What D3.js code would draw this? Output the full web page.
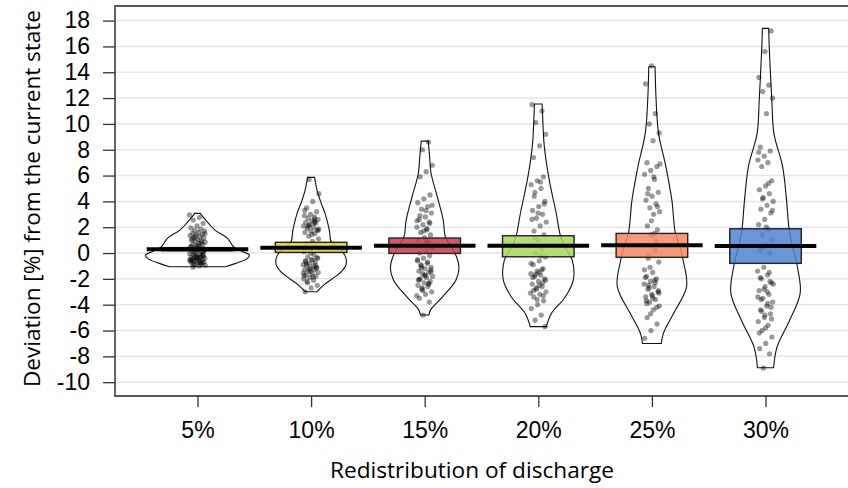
<!DOCTYPE html>
<html>
<head>
<meta charset="utf-8">
<script src="https://cdn.jsdelivr.net/npm/d3@7"></script>
<style>
  body { margin: 0; background: #fff; }
  svg { display: block; }
</style>
</head>
<body>
<svg id="chart"></svg>
<script>
// categories and summary values
const categories = ["5%", "10%", "15%", "20%", "25%", "30%"];
const means = [0.3, 0.41, 0.57, 0.57, 0.6, 0.54];
const boxLow = [0.18, 0.05, -0.03, -0.29, -0.33, -0.8];
const boxHigh = [0.42, 0.83, 1.16, 1.34, 1.52, 1.88];
const boxColors = ["#4a4a4a", "#e3d13c", "#cc3a4e", "#a6d85a", "#fa875e", "#4f84d4"];
const yTicks = [-10, -8, -6, -4, -2, 0, 2, 4, 6, 8, 10, 12, 14, 16, 18];

// bean outlines: [value, relative density]
const bean5 = [[3.07, 0.08], [2.68, 0.19], [2.17, 0.36], [1.78, 0.5], [1.14, 0.86], [0.49, 1.03], [0.1, 1.3], [-0.15, 1.48], [-0.41, 1.43], [-0.8, 1.09], [-1.06, 0.8]];
const bean10 = [[5.86, 0.1], [4.88, 0.17], [3.85, 0.29], [3.07, 0.4], [1.78, 0.52], [0.83, 0.58], [0.36, 0.8], [-0.2, 0.97], [-0.9, 1.0], [-1.4, 0.88], [-1.83, 0.69], [-2.48, 0.36], [-3.0, 0.16]];
const bean15 = [[8.67, 0.1], [7.5, 0.14], [6.2, 0.18], [4.36, 0.36], [2.55, 0.53], [1.26, 0.59], [0.5, 0.75], [-0.29, 0.91], [-1.16, 0.98], [-2.1, 0.89], [-3.4, 0.51], [-4.4, 0.17], [-4.8, 0.12]];
const bean20 = [[11.54, 0.11], [10.8, 0.12], [8.3, 0.17], [5.7, 0.31], [3.1, 0.51], [1.26, 0.64], [0.3, 0.8], [-0.55, 0.97], [-2.1, 1.0], [-3.4, 0.77], [-4.7, 0.37], [-5.7, 0.23]];
const bean25 = [[14.43, 0.09], [11.85, 0.12], [9.27, 0.19], [6.68, 0.4], [4.1, 0.57], [1.54, 0.67], [0.5, 0.8], [-0.54, 0.89], [-2.6, 0.99], [-4.67, 0.62], [-6.2, 0.33], [-7.0, 0.27]];
const bean30 = [[17.4, 0.09], [15.7, 0.11], [11.85, 0.18], [9.27, 0.24], [6.68, 0.49], [4.1, 0.6], [1.52, 0.69], [-1.06, 0.91], [-3.12, 0.99], [-5.2, 0.69], [-7.26, 0.33], [-8.88, 0.23]];

// raw points
const pts5 = [2.95, 2.75, 2.55, 2.3, 2.1, 1.95, 1.85, 1.75, 1.7, 1.6, 1.55, 1.45, 1.4, 1.35, 1.25, 1.2, 1.15, 1.05, 1.0, 0.95, 0.9, 0.85, 0.75, 0.7, 0.65, 0.55, 0.5, 0.4, 0.35, 0.3, 0.25, 0.15, 0.1, 0.05, -0.05, -0.1, -0.15, -0.2, -0.25, -0.3, -0.3, -0.35, -0.4, -0.45, -0.45, -0.5, -0.55, -0.6, -0.6, -0.65, -0.7, -0.75, -0.8, -0.85, -0.9, -0.95, -1.0, -1.1, -0.2, -0.4, -0.6, -0.8, 0.0, 0.2, 0.6, 1.1,
    -0.1, -0.3, -0.5, -0.7, -0.9, 0.1, 0.3, 0.5, 0.8, 1.3, 1.5, -0.35, -0.55, -0.75, 0.45];
const pts10 = [5.7, 4.6, 4.0, 3.5, 3.2, 3.0, 2.9, 2.8, 2.7, 2.6, 2.5, 2.4, 2.3, 2.2, 2.1, 2.0, 1.9, 1.8, 1.7, 1.6, 1.5, 1.3, 1.1, 0.9, 0.7, 0.5, 0.3, 0.1, -0.1, -0.3, -0.4, -0.5, -0.6, -0.7, -0.8, -0.9, -1.0, -1.0, -1.1, -1.2, -1.3, -1.3, -1.4, -1.5, -1.6, -1.7, -1.8, -1.9, -2.0, -2.1, -2.3, -2.5, -2.7, -3.0, 2.45, 2.15, 1.85, -0.55, -0.85, -1.15, -1.45, -1.75,
    2.35, 2.05, 1.75, 1.45, -0.65, -0.95, -1.25, -1.55, -1.85, -2.2, -0.35, 0.0, 3.3, 2.65];
const pts15 = [8.6, 8.0, 6.8, 6.3, 5.9, 4.5, 4.2, 3.9, 3.6, 3.4, 3.1, 2.8, 2.6, 2.4, 2.2, 2.0, 1.8, 1.6, 1.4, 1.2, 1.0, 0.8, 0.6, 0.4, 0.2, 0.0, -0.2, -0.4, -0.6, -0.8, -1.0, -1.1, -1.2, -1.4, -1.5, -1.6, -1.8, -1.9, -2.0, -2.2, -2.3, -2.5, -2.6, -2.8, -3.0, -3.2, -3.5, -3.8, -4.8, 2.5, 1.9, -0.9, -1.3, -1.7, -2.1, -2.4, -2.7,
    3.7, 3.3, 2.9, 2.3, 1.7, -0.5, -0.7, -1.15, -1.45, -1.75, -2.05, -2.35, -2.9, -3.3, 0.9];
const pts20 = [11.5, 11.0, 10.1, 9.2, 8.3, 7.4, 5.9, 5.6, 5.3, 5.0, 4.7, 4.0, 3.6, 3.3, 3.0, 2.7, 2.4, 2.1, 1.7, 1.4, 1.0, 0.6, 0.3, 0.0, -0.3, -0.6, -0.9, -1.2, -1.4, -1.6, -1.7, -1.8, -2.0, -2.2, -2.4, -2.6, -2.8, -3.0, -3.2, -3.4, -3.7, -4.0, -4.3, -4.8, -5.2, -5.7, -1.5, -1.9, -2.3, -2.7, -3.1,
    5.5, 4.4, 3.8, 3.1, 2.6, -1.3, -1.65, -2.1, -2.5, -2.9, -3.3, -3.6, -0.8, -0.2, 1.2];
const pts25 = [14.5, 13.1, 10.8, 10.0, 9.3, 8.7, 7.0, 6.7, 6.4, 6.1, 5.7, 5.0, 4.7, 4.4, 4.1, 3.8, 3.5, 3.2, 3.0, 2.1, 1.8, 1.4, 0.6, 0.2, -0.2, -0.7, -1.5, -1.8, -2.0, -2.2, -2.4, -2.6, -2.8, -3.0, -3.2, -3.4, -3.6, -3.8, -4.1, -4.4, -5.0, -5.5, -6.0, -6.6, -2.1, -2.5, -2.9, -3.3, -3.7, 0.9, -1.1,
    6.9, 5.9, 4.6, 3.6, 2.5, -1.9, -2.3, -2.7, -3.1, -3.5, -3.9, -4.2, -4.7, -1.3, 1.5, -0.4];
const pts30 = [17.2, 15.6, 13.6, 13.0, 12.5, 12.0, 10.8, 8.2, 7.9, 7.5, 7.2, 7.0, 6.7, 5.6, 5.2, 4.9, 4.6, 4.3, 4.0, 3.7, 3.4, 3.1, 2.6, 2.2, 1.8, 1.4, 1.0, 0.6, 0.2, 0.0, -1.1, -1.4, -1.7, -2.0, -2.3, -2.6, -2.9, -3.2, -3.5, -3.8, -4.1, -4.4, -4.7, -5.0, -5.3, -5.6, -6.0, -6.5, -7.0, -7.4, -7.8, -8.9, -2.4, -3.0, -3.6, -4.2, -4.8,
    7.8, 5.4, 4.2, 3.3, 2.0, -1.9, -2.2, -2.8, -3.4, -3.9, -4.5, -5.1, -5.8, -6.2, -1.5, 0.4];

const beans = [bean5, bean10, bean15, bean20, bean25, bean30];
const points = [pts5, pts10, pts15, pts20, pts25, pts30];

const width = 848, height = 488;
const plotLeft = 115, plotRight = 848, plotTop = 6, plotBottom = 396;

const svg = d3.select("#chart")
    .attr("width", width)
    .attr("height", height)
    .style("font-family", "'Liberation Sans', Arial, sans-serif");

const x = d3.scalePoint()
    .domain(categories)
    .range([plotLeft, plotRight])
    .padding(0.726);

const y = d3.scaleLinear()
    .domain([-11.07, 19.13])
    .range([plotBottom, plotTop]);

const step = x.step();
const beanWidth = d3.scaleLinear().domain([0, 1]).range([0, 35]);

// grid
svg.append("g")
    .selectAll("line")
    .data(yTicks)
    .join("line")
        .attr("x1", plotLeft)
        .attr("x2", plotRight)
        .attr("y1", d => y(d))
        .attr("y2", d => y(d))
        .attr("stroke", "#e6e6e6")
        .attr("stroke-width", 1.5);

const groups = svg.append("g")
    .selectAll("g")
    .data(categories)
    .join("g")
        .attr("transform", d => `translate(${x(d)},0)`);

// beans: right side down, left side back up, closed
const beanLine = d3.line().curve(d3.curveCatmullRom);

groups.append("path")
    .attr("d", (d, i) => {
        const b = beans[i];
        const rightSide = b.map(p => [beanWidth(p[1]), y(p[0])]);
        const leftSide = b.slice().reverse().map(p => [-beanWidth(p[1]), y(p[0])]);
        return beanLine(rightSide) + "L" + beanLine(leftSide).slice(1) + "Z";
    })
    .attr("fill", "none")
    .attr("stroke", "#111")
    .attr("stroke-width", 1.1);

// points
groups.each(function(d, i) {
    d3.select(this).selectAll("circle")
        .data(points[i])
        .join("circle")
            .attr("cx", (v, j) => (((j * 0.618034 + i * 0.37) % 1) - 0.5) * 16)
            .attr("cy", v => y(v))
            .attr("r", 2.6)
            .attr("fill", "#000")
            .attr("fill-opacity", 0.4);
});

// inference boxes
groups.append("rect")
    .attr("x", -step * 0.315)
    .attr("width", step * 0.63)
    .attr("y", (d, i) => y(boxHigh[i]))
    .attr("height", (d, i) => y(boxLow[i]) - y(boxHigh[i]))
    .attr("fill", (d, i) => boxColors[i])
    .attr("fill-opacity", 0.85)
    .attr("stroke", "#222")
    .attr("stroke-width", 1.4);

// mean lines
groups.append("line")
    .attr("x1", -step * 0.447)
    .attr("x2", step * 0.447)
    .attr("y1", (d, i) => y(means[i]))
    .attr("y2", (d, i) => y(means[i]))
    .attr("stroke", "#000")
    .attr("stroke-width", 4);

// frame
svg.append("path")
    .attr("d", `M${plotRight},${plotTop}H${plotLeft}V${plotBottom}H${plotRight}`)
    .attr("stroke", "#555")
    .attr("stroke-width", 1.8)
    .attr("fill", "none");

// axes
const yAxis = svg.append("g")
    .attr("transform", `translate(${plotLeft},0)`)
    .call(d3.axisLeft(y).tickValues(yTicks).tickSize(12).tickPadding(13).tickFormat(d => String(d)));
yAxis.select(".domain").remove();
yAxis.selectAll("line").attr("stroke", "#333").attr("stroke-width", 1.3);
yAxis.selectAll("text")
    .attr("font-size", 23)
    .attr("font-family", "'Liberation Sans', Arial, sans-serif")
    .attr("fill", "#000");

const xAxis = svg.append("g")
    .attr("transform", `translate(0,${plotBottom})`)
    .call(d3.axisBottom(x).tickSize(11).tickPadding(15));
xAxis.select(".domain").remove();
xAxis.selectAll("line").attr("stroke", "#333").attr("stroke-width", 1.3);
xAxis.selectAll("text")
    .attr("font-size", 23)
    .attr("font-family", "'Liberation Sans', Arial, sans-serif")
    .attr("fill", "#000");

// titles
svg.append("text")
    .attr("x", 472)
    .attr("y", 478)
    .attr("text-anchor", "middle")
    .attr("font-family", "'Open Sans', sans-serif")
    .attr("font-size", 21)
    .attr("textLength", 284)
    .attr("lengthAdjust", "spacingAndGlyphs")
    .text("Redistribution of discharge");

svg.append("text")
    .attr("transform", "translate(40,198.5) rotate(-90)")
    .attr("text-anchor", "middle")
    .attr("font-family", "'Open Sans', sans-serif")
    .attr("font-size", 22)
    .attr("textLength", 377)
    .attr("lengthAdjust", "spacingAndGlyphs")
    .text("Deviation [%] from the current state");
</script>
</body>
</html>
